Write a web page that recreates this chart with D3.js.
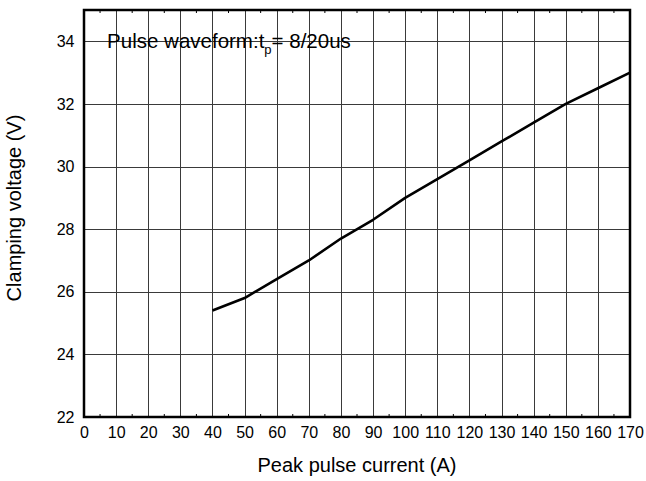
<!DOCTYPE html>
<html>
<head>
<meta charset="utf-8">
<script src="https://cdn.jsdelivr.net/npm/d3@7"></script>
<style>
  html,body{margin:0;padding:0;background:#fff}
  svg{display:block;font-family:'Liberation Sans',Arial,sans-serif}
</style>
</head>
<body>
<svg id="chart" width="646" height="481"></svg>
<script>
// data
const current = [40, 50, 60, 70, 80, 90, 100, 110, 120, 130, 140, 150, 160, 170];
const voltage = [25.4, 25.8, 26.4, 27.0, 27.7, 28.3, 29.0, 29.6, 30.2, 30.8, 31.4, 32.0, 32.5, 33.0];
const xTicks = d3.range(0, 171, 10);
const yTicks = [22, 24, 26, 28, 30, 32, 34];

const svg = d3.select('#chart');
const margin = { top: 10, right: 16, bottom: 64, left: 84 };
const W = 646, H = 481;
const w = W - margin.left - margin.right;
const h = H - margin.top - margin.bottom;

const x = d3.scaleLinear().domain([0, 170]).range([0, w]);
const y = d3.scaleLinear().domain([22, 35]).range([h, 0]);

const g = svg.append('g').attr('transform', `translate(${margin.left},${margin.top})`);

// grid
g.selectAll('.vg').data(xTicks.slice(1, -1)).enter().append('line')
  .attr('x1', d => Math.round(x(d)) + 0.5).attr('x2', d => Math.round(x(d)) + 0.5)
  .attr('y1', 0).attr('y2', h).attr('stroke', '#3a3a3a').attr('stroke-width', 1);
g.selectAll('.hg').data(yTicks.slice(1)).enter().append('line')
  .attr('y1', d => Math.round(y(d)) + 0.5).attr('y2', d => Math.round(y(d)) + 0.5)
  .attr('x1', 0).attr('x2', w).attr('stroke', '#3a3a3a').attr('stroke-width', 1);

// minor ticks (inward) at every 5
const minor = d3.range(5, 170, 10);
g.selectAll('.mb').data(minor).enter().append('line')
  .attr('x1', d => x(d)).attr('x2', d => x(d)).attr('y1', h).attr('y2', h - 3)
  .attr('stroke', '#000');
g.selectAll('.mt').data(minor).enter().append('line')
  .attr('x1', d => x(d)).attr('x2', d => x(d)).attr('y1', 0).attr('y2', 3)
  .attr('stroke', '#000');

// frame
g.append('rect').attr('x', 0).attr('y', 0).attr('width', w).attr('height', h)
  .attr('fill', 'none').attr('stroke', '#000').attr('stroke-width', 2.5);

// axes (labels only)
const xAxis = g.append('g').attr('transform', `translate(0,${h})`)
  .call(d3.axisBottom(x).tickValues(xTicks).tickSize(0).tickPadding(10));
const yAxis = g.append('g')
  .call(d3.axisLeft(y).tickValues(yTicks).tickSize(0).tickPadding(9.5));
[xAxis, yAxis].forEach(a => {
  a.select('.domain').remove();
  a.attr('font-size', null).attr('font-family', null);
  a.selectAll('text').attr('fill', '#000').style('font-size', '16px');
});

// curve
const line = d3.line().x((d, i) => x(current[i])).y(d => y(d));
g.append('path').datum(voltage).attr('d', line)
  .attr('fill', 'none').attr('stroke', '#000').attr('stroke-width', 2.6)
  .attr('stroke-linejoin', 'round');

// annotation
const note = g.append('text').attr('x', x(7.2)).attr('y', y(34) + 6.5)
  .attr('fill', '#000').style('font-size', '20.5px');
note.append('tspan').attr('fill', '#000').text('Pulse waveform:t');
note.append('tspan').attr('fill', '#000').attr('dy', 6).style('font-size', '13px').text('p');
note.append('tspan').attr('fill', '#000').attr('dy', -6).text('= 8/20us');

// titles
svg.append('text').attr('x', margin.left + w / 2).attr('y', 472)
  .attr('text-anchor', 'middle').style('font-size', '20px').text('Peak pulse current (A)');
svg.append('text').attr('transform', 'translate(21,208) rotate(-90)')
  .attr('text-anchor', 'middle').style('font-size', '20px').text('Clamping voltage (V)');
</script>
</body>
</html>
